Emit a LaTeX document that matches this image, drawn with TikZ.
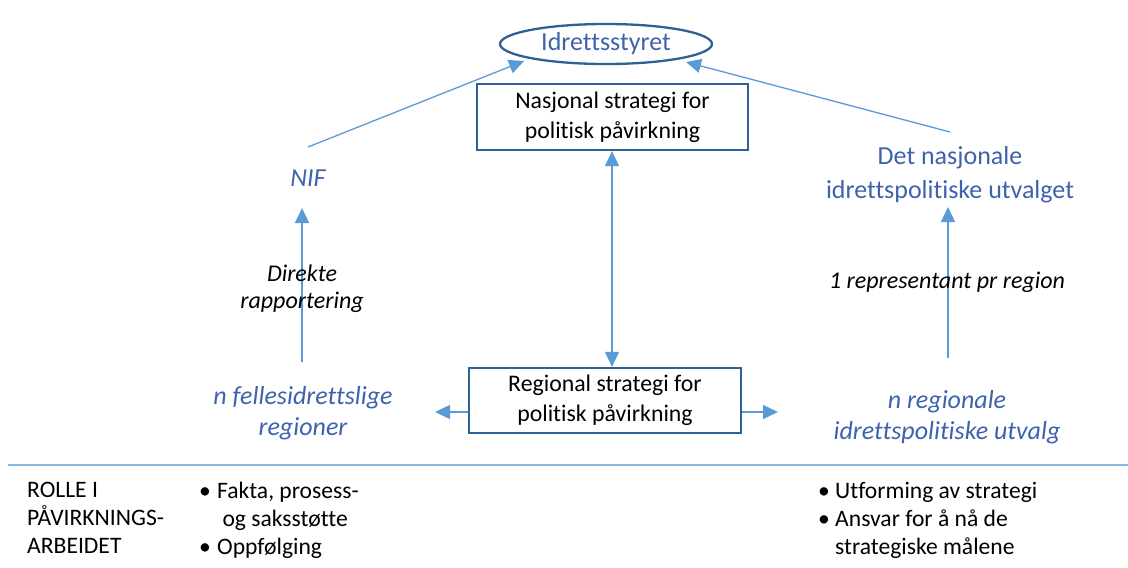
\documentclass[tikz,border=0pt]{standalone}
\usepackage{fontspec}
\setmainfont{Carlito}[Ligatures=NoCommon]
\usetikzlibrary{arrows.meta,shapes.geometric}
\definecolor{txtblue}{HTML}{3E62AE}
\definecolor{arrblue}{HTML}{5B9BD5}
\definecolor{boxblue}{HTML}{2E6196}
\definecolor{lineblue}{HTML}{8AB8E0}
\begin{document}
\begin{tikzpicture}[x=1pt,y=-1pt,
  arr/.style={draw=arrblue,line width=1.3pt,-{Triangle[length=15pt,width=14pt]}},
  darr/.style={draw=arrblue,line width=1.3pt,{Triangle[length=15pt,width=14pt]}-{Triangle[length=15pt,width=14pt]}},
  bluelbl/.style={text=txtblue,font=\fontsize{26}{34}\selectfont,align=center,inner sep=0pt},
  bluelbli/.style={text=txtblue,font=\fontsize{26}{31}\itshape,align=center,inner sep=0pt},
  blklbl/.style={text=black,font=\fontsize{24}{27}\itshape,align=center,inner sep=0pt},
  stratbox/.style={draw=boxblue,line width=2.3pt,rectangle,align=center,font=\fontsize{23.8}{30}\selectfont,inner sep=0pt},
  btxt/.style={font=\fontsize{23.6}{28}\selectfont,align=left,inner sep=0pt,anchor=north west}
]
\useasboundingbox (0,0) rectangle (1128,568);
\fill[white] (0,0) rectangle (1128,568);

\node[ellipse,draw=boxblue,line width=2.3pt,minimum width=212pt,minimum height=40pt,inner sep=0pt,
  text=txtblue,font=\fontsize{26}{28}\selectfont] (ell) at (606,44) {Idrettsstyret};
\node[stratbox,minimum width=271pt,minimum height=66pt] (nas) at (612.5,117) {Nasjonal strategi for\\politisk påvirkning};
\node[stratbox,minimum width=272pt,minimum height=65pt] (reg) at (605,400.5) {Regional strategi for\\politisk påvirkning};

\node[bluelbli] (nif) at (308,178) {NIF};
\node[bluelbl] (dnu) at (950,175) {Det nasjonale\\idrettspolitiske utvalget};
\node[bluelbli] (fel) at (303,413) {n fellesidrettslige\\regioner};
\node[bluelbli] (rut) at (947,417) {n regionale\\idrettspolitiske utvalg};

\coordinate (nifA) at (308,147);
\coordinate (ellL) at (524,61);
\coordinate (dnuA) at (950,132);
\coordinate (ellR) at (686,62);
\coordinate (felT) at (302,208);
\coordinate (felB) at (302,362);
\coordinate (rutT) at (948,207);
\coordinate (rutB) at (948,358);
\coordinate (regL) at (435,412);
\coordinate (regR) at (778,412);

\draw[arr] (felB) -- (felT);
\draw[arr] (rutB) -- (rutT);
\draw[arr] (nifA) -- (ellL);
\draw[arr] (dnuA) -- (ellR);
\draw[darr] (nas.south -| 612,0) -- (612,0 |- reg.north);
\draw[arr] (reg.west |- regL) -- (regL);
\draw[arr] (reg.east |- regR) -- (regR);

\node[blklbl] (dir) at (302,289) {Direkte\\rapportering};
\node[blklbl] (rep) at (947,282) {1 representant pr region};

\coordinate (hl) at (8,465);
\coordinate (hr) at (1128,465);
\draw[lineblue,line width=1.8pt] (hl) -- (hr);

\node[btxt] (rolle) at (27,482) {ROLLE I\\PÅVIRKNINGS-\\ARBEIDET};
\node[btxt] (lb) at (199,482) {\makebox[18pt][l]{•}Fakta, prosess-\\\makebox[18pt][l]{} og saksstøtte\\\makebox[18pt][l]{•}Oppfølging};
\node[btxt] (rb) at (818,482) {\makebox[17pt][l]{•}Utforming av strategi\\\makebox[17pt][l]{•}Ansvar for å nå de\\\makebox[17pt][l]{}strategiske målene};
\end{tikzpicture}
\end{document}
